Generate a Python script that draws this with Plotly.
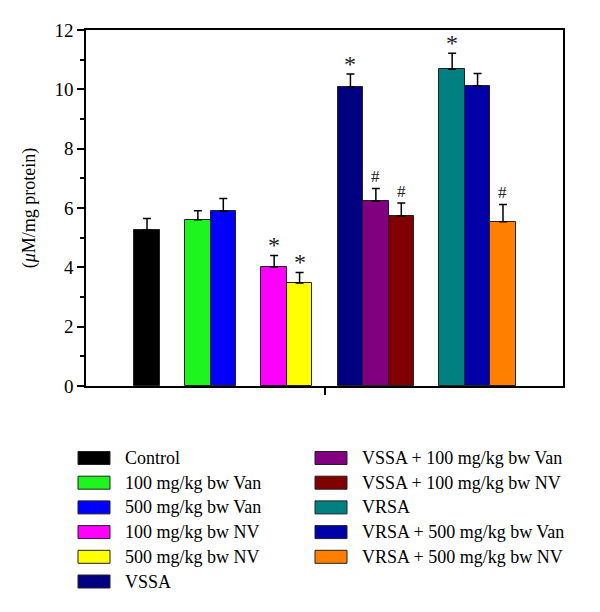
import plotly.graph_objects as go

# data
groups = ["Control", "100 mg/kg bw Van", "500 mg/kg bw Van", "100 mg/kg bw NV",
          "500 mg/kg bw NV", "VSSA", "VSSA + 100 mg/kg bw Van", "VSSA + 100 mg/kg bw NV",
          "VRSA", "VRSA + 500 mg/kg bw Van", "VRSA + 500 mg/kg bw NV"]
slots = [0, 2, 3, 5, 6, 8, 9, 10, 12, 13, 14]
means = [5.26, 5.60, 5.89, 4.01, 3.47, 10.08, 6.23, 5.73, 10.68, 10.11, 5.54]
errors = [0.39, 0.31, 0.43, 0.39, 0.36, 0.44, 0.43, 0.44, 0.54, 0.42, 0.58]
marks = ["", "", "", "*", "*", "*", "#", "#", "*", "", "#"]
colors = ["#000000", "#1EF51E", "#0000FF", "#FF00FF", "#FFFF00", "#000080",
          "#800080", "#800000", "#008080", "#0000A8", "#FF8000"]

# the page body adds an 8px margin, so the figure is laid out 8px smaller
OFF = 8
W, H = 600 - OFF, 612 - OFF
L, R, T, B = 86 - OFF, 563 - OFF, 30 - OFF, 386 - OFF
FONT = "Liberation Serif, Times New Roman, serif"

fig = go.Figure()
fig.add_trace(go.Bar(
    x=slots, y=means, width=1,
    marker=dict(color=colors, line=dict(color="#222222", width=1)),
    error_y=dict(type="data", array=errors, arrayminus=[0] * len(errors),
                 symmetric=False, color="black", thickness=1.5, width=4),
    showlegend=False,
))

for s, m, e, k in zip(slots, means, errors, marks):
    if not k:
        continue
    fig.add_annotation(x=s, y=m + e, text=k, showarrow=False, yanchor="bottom",
                       yshift=-5 if k == "*" else 0,
                       font=dict(family=FONT, size=24 if k == "*" else 17, color="#222222"))


def px(x):
    return (x - OFF - L) / (R - L)


def py(y):
    return (B - (y - OFF)) / (B - T)


# legend in two columns
for i, (name, c) in enumerate(zip(groups, colors)):
    col, row = (0, i) if i < 6 else (1, i - 6)
    x0 = 78 if col == 0 else 315
    yc = 458 + row * 24.7
    fig.add_shape(type="rect", xref="paper", yref="paper",
                  x0=px(x0), x1=px(x0 + 32), y0=py(yc - 6.5), y1=py(yc + 6.5),
                  fillcolor=c, line=dict(color="#222222", width=1))
    fig.add_annotation(xref="paper", yref="paper", x=px(x0 + 45), y=py(yc),
                       text=name, showarrow=False, xanchor="left", yanchor="middle",
                       font=dict(family=FONT, size=18, color="black"))

fig.update_layout(
    width=W, height=H,
    margin=dict(l=L, r=W - R, t=T, b=H - B, pad=0),
    plot_bgcolor="white", paper_bgcolor="white",
    font=dict(family=FONT, size=17, color="black"),
    bargap=0,
)
fig.update_xaxes(range=[-2.4, 16.36], tickvals=[7], ticktext=[""],
                 ticks="outside", ticklen=7, tickwidth=1.5, tickcolor="black",
                 showline=True, linecolor="black", linewidth=1.5, mirror=True,
                 showgrid=False, zeroline=False)
fig.update_yaxes(range=[0, 12], dtick=2, ticks="outside", ticklen=7, tickwidth=1.5,
                 tickcolor="black", showline=True, linecolor="black", linewidth=1.5,
                 mirror=True, showgrid=False, zeroline=False,
                 tickfont=dict(family=FONT, size=19),
                 minor=dict(dtick=1, ticks="outside", ticklen=4, tickcolor="black",
                            tickwidth=1.5, showgrid=False),
                 title=dict(text="(<i>μ</i>M/mg protein)", standoff=14,
                            font=dict(family=FONT, size=18)))

fig.write_html("out.html")
